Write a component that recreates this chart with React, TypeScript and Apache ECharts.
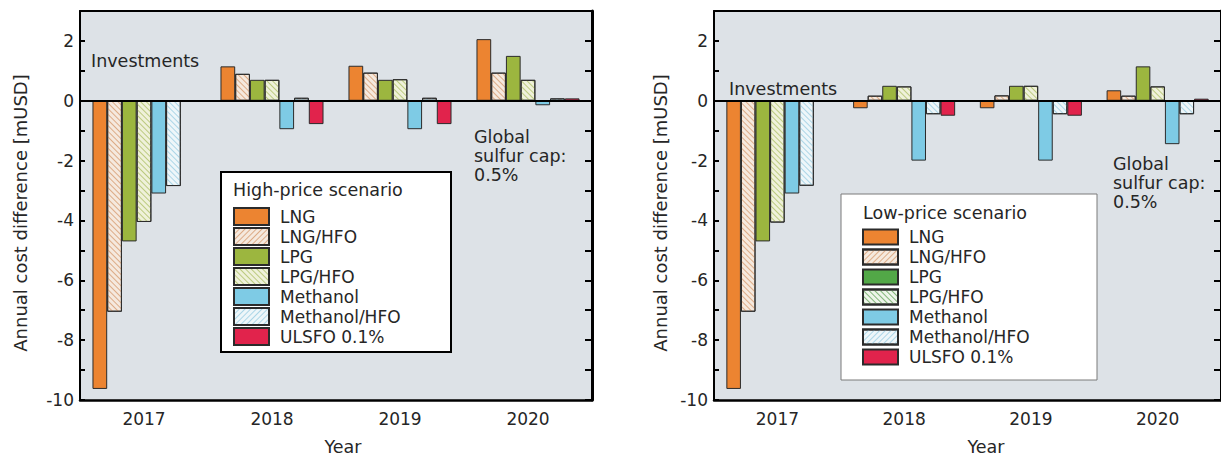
import React, { useEffect, useRef } from "react";
import * as echarts from "echarts";

const categories = ["2017", "2018", "2019", "2020"];
const seriesNames = ["LNG", "LNG/HFO", "LPG", "LPG/HFO", "Methanol", "Methanol/HFO", "ULSFO 0.1%"];

// High-price scenario (left)
const highLNG = [-9.63, 1.15, 1.17, 2.06];
const highLNGHFO = [-7.05, 0.9, 0.94, 0.94];
const highLPG = [-4.7, 0.7, 0.7, 1.5];
const highLPGHFO = [-4.05, 0.7, 0.72, 0.7];
const highMethanol = [-3.1, -0.95, -0.95, -0.15];
const highMethanolHFO = [-2.85, 0.1, 0.1, 0.08];
const highULSFO = [0, -0.78, -0.78, 0.08];

// Low-price scenario (right)
const lowLNG = [-9.63, -0.25, -0.25, 0.35];
const lowLNGHFO = [-7.05, 0.17, 0.18, 0.17];
const lowLPG = [-4.7, 0.5, 0.5, 1.15];
const lowLPGHFO = [-4.07, 0.48, 0.5, 0.48];
const lowMethanol = [-3.1, -2.0, -2.0, -1.45];
const lowMethanolHFO = [-2.84, -0.45, -0.45, -0.45];
const lowULSFO = [0, -0.5, -0.5, 0.07];

const yTickLabels = ["-10", "-8", "-6", "-4", "-2", "0", "2"];

const FONT = '"DejaVu Sans", "Liberation Sans", sans-serif';
const TEXT = "#262626";

const hatch = (color: string, rotation: number) => ({
  symbol: "rect",
  symbolSize: 1,
  dashArrayX: [1, 0],
  dashArrayY: [1, 2.6],
  rotation,
  color,
});

const R1 = Math.PI / 4;
const R2 = -Math.PI / 4;

const styles = [
  { color: "#ec8431" },
  { color: "#f5e9de", decal: hatch("rgba(212,150,105,0.75)", R1) },
  { color: "#9cb63f" },
  { color: "#eff1da", decal: hatch("rgba(175,192,105,0.8)", R1) },
  { color: "#7ecbe5" },
  { color: "#eef6f9", decal: hatch("rgba(160,208,228,0.85)", R1) },
  { color: "#e1234c" },
];

export default function App() {
  const ref = useRef<HTMLDivElement>(null);

  useEffect(() => {
    document.body.style.margin = "0";
    const chart = echarts.init(ref.current!, null, { renderer: "svg" });

    const grids = [
      { left: 80, top: 11, width: 512, height: 389 },
      { left: 714, top: 11, width: 508, height: 389 },
    ];

    const xAxes: any[] = [];
    const yAxes: any[] = [];
    grids.forEach((_, i) => {
      xAxes.push({
        gridIndex: i,
        type: "category",
        data: categories,
        position: "bottom",
        axisLine: { onZero: false, lineStyle: { color: "#000", width: 2.5 } },
        axisTick: { inside: true, alignWithLabel: true, length: 8, lineStyle: { color: "#000", width: 2 } },
        axisLabel: { fontSize: 17, color: TEXT, fontFamily: FONT, margin: 10 },
        splitLine: { show: false },
      });
      xAxes.push({
        gridIndex: i,
        type: "category",
        data: categories,
        position: "top",
        axisLine: { onZero: false, lineStyle: { color: "#000", width: 2 } },
        axisTick: { inside: true, alignWithLabel: true, length: 7, lineStyle: { color: "#000", width: 2 } },
        axisLabel: { show: false },
        splitLine: { show: false },
      });
      yAxes.push({
        gridIndex: i,
        type: "value",
        min: -10,
        max: 3,
        interval: 1,
        position: "left",
        axisLine: { show: true, onZero: false, lineStyle: { color: "#000", width: 2 } },
        axisTick: { show: true, inside: true, length: 5, lineStyle: { color: "#000", width: 2 } },
        axisLabel: {
          fontSize: 17,
          color: TEXT,
          fontFamily: FONT,
          margin: 6,
          formatter: (v: number) => (yTickLabels.includes(String(v)) ? String(v) : ""),
        },
        splitLine: { show: false },
      });
      yAxes.push({
        gridIndex: i,
        type: "value",
        min: -10,
        max: 3,
        interval: 1,
        position: "right",
        axisLine: { show: true, onZero: false, lineStyle: { color: "#000", width: 3 } },
        axisTick: { show: true, inside: true, length: 7, lineStyle: { color: "#000", width: 2 } },
        axisLabel: { show: false },
        splitLine: { show: false },
      });
    });

    const highData = [highLNG, highLNGHFO, highLPG, highLPGHFO, highMethanol, highMethanolHFO, highULSFO];
    const lowData = [lowLNG, lowLNGHFO, lowLPG, lowLPGHFO, lowMethanol, lowMethanolHFO, lowULSFO];

    const series: any[] = [];
    [highData, lowData].forEach((set, g) => {
      set.forEach((vals, k) => {
        series.push({
          type: "bar",
          name: seriesNames[k],
          xAxisIndex: g * 2,
          yAxisIndex: g * 2,
          data: vals,
          barGap: "0%",
          barCategoryGap: "19.5%",
          itemStyle: { ...styles[k], borderColor: "#2b2b2b", borderWidth: 1 },
          emphasis: { disabled: true },
          markLine:
            k === set.length - 1
              ? {
                  silent: true,
                  symbol: "none",
                  label: { show: false },
                  lineStyle: { color: "#000", type: "solid", width: 1.8 },
                  data: [{ yAxis: 0 }],
                }
              : undefined,
        });
      });
    });

    const legendText = { fontSize: 17, color: TEXT, fontFamily: FONT };

    const highLegendData = seriesNames.map((n, k) => {
      if (k === 1) return { name: n, itemStyle: { decal: hatch("rgba(212,150,105,0.75)", R2) } };
      if (k === 5) return { name: n, itemStyle: { decal: hatch("rgba(160,208,228,0.85)", R2) } };
      return { name: n };
    });

    const lowLegendData = seriesNames.map((n, k) => {
      if (k === 1) return { name: n, itemStyle: { decal: hatch("rgba(212,150,105,0.75)", R2) } };
      if (k === 2) return { name: n, itemStyle: { color: "#52a847" } };
      if (k === 3)
        return {
          name: n,
          itemStyle: { color: "#eef5ea", decal: hatch("rgba(120,175,110,0.9)", R1) },
        };
      if (k === 5) return { name: n, itemStyle: { decal: hatch("rgba(160,208,228,0.85)", R2) } };
      return { name: n };
    });

    const txt = (text: string, x: number, y: number, extra: any = {}) => ({
      type: "text",
      x,
      y,
      z: 30,
      style: {
        text,
        fontSize: 17.5,
        fontFamily: FONT,
        fill: TEXT,
        align: "left",
        verticalAlign: "middle",
        lineHeight: 19,
        ...extra,
      },
    });

    const yName = (x: number) => ({
      type: "text",
      x,
      y: 213,
      rotation: Math.PI / 2,
      z: 30,
      style: {
        text: "Annual cost difference [mUSD]",
        fontSize: 18,
        fontFamily: FONT,
        fill: TEXT,
        align: "center",
        verticalAlign: "middle",
      },
    });

    chart.setOption({
      animation: false,
      grid: grids.map((g) => ({
        ...g,
        show: true,
        backgroundColor: "#dde2e7",
        borderWidth: 0,
        containLabel: false,
      })),
      xAxis: xAxes,
      yAxis: yAxes,
      legend: [
        {
          orient: "vertical",
          left: 233,
          top: 207,
          padding: 0,
          itemWidth: 35,
          itemHeight: 17,
          itemGap: 1,
          icon: "rect",
          selectedMode: false,
          z: 40,
          data: highLegendData,
          textStyle: { ...legendText, lineHeight: 17, padding: [0, 0, 0, 6] },
        },
        {
          orient: "vertical",
          left: 862,
          top: 227,
          padding: 0,
          itemWidth: 35,
          itemHeight: 15,
          itemGap: 0,
          icon: "rect",
          selectedMode: false,
          z: 40,
          data: lowLegendData,
          textStyle: { ...legendText, lineHeight: 7, padding: [13, 0, 0, 6] },
        },
      ],
      graphic: [
        {
          type: "rect",
          z: 20,
          shape: { x: 221, y: 172, width: 230, height: 180 },
          style: { fill: "#ffffff", stroke: "#000", lineWidth: 2 },
        },
        {
          type: "rect",
          z: 20,
          shape: { x: 841, y: 194, width: 256, height: 186 },
          style: { fill: "#ffffff", stroke: "#7a7a7a", lineWidth: 1 },
        },
        txt("High-price scenario", 233, 190),
        txt("Low-price scenario", 863, 213),
        txt("Investments", 91, 61),
        txt("Investments", 729, 89),
        txt("Global\nsulfur cap:\n0.5%", 474, 156),
        txt("Global\nsulfur cap:\n0.5%", 1113, 183),
        txt("Year", 343, 447, { align: "center" }),
        txt("Year", 986, 447, { align: "center" }),
        yName(20),
        yName(660),
      ],
      series,
    });

    return () => chart.dispose();
  }, []);

  return <div ref={ref} style={{ width: 1221, height: 457 }} />;
}
